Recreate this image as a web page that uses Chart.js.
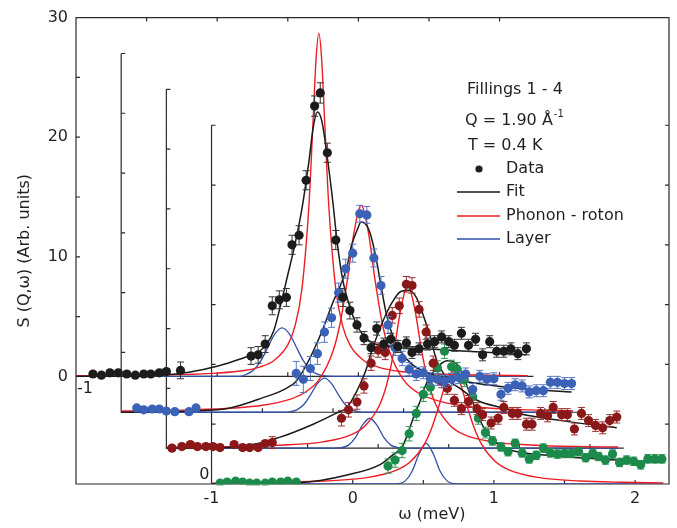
<!DOCTYPE html>
<html>
<head>
<meta charset="utf-8">
<script src="https://cdn.jsdelivr.net/npm/chart.js@4.4.1/dist/chart.umd.min.js"></script>
<style>
  html, body { margin: 0; background: #fff; }
</style>
</head>
<body>
<canvas id="chart" width="677" height="528"></canvas>
<script>
// Waterfall of S(Q,w) for fillings 1-4, each panel in its own (w, S) frame.
// Panel k is drawn shifted right by (3-k)*STEP_W and down by k*STEP_S.
const STEP_W = 0.32;
const STEP_S = 3;
const W_MIN = -1, W_MAX = 2.24, S_TOP = 30;

const X_TICKS = [-1, 0, 1, 2];
const Y_TICKS = [0, 10, 20, 30];

// ---- filling 1 (black) ----
const F1_W = [-0.88, -0.82, -0.76, -0.70, -0.64, -0.58, -0.52, -0.47, -0.41, -0.36, -0.26,
  0.24, 0.29, 0.34, 0.39, 0.44, 0.49, 0.53, 0.58, 0.63, 0.69, 0.73, 0.78, 0.84, 0.89, 0.94, 0.99,
  1.04, 1.09, 1.13, 1.18, 1.23, 1.28, 1.34, 1.38, 1.43, 1.49, 1.54, 1.59, 1.64, 1.68, 1.73, 1.78,
  1.83, 1.88, 1.93, 1.98, 2.03, 2.08, 2.13, 2.19];
const F1_S = [0.2, 0.1, 0.3, 0.3, 0.2, 0.1, 0.2, 0.2, 0.3, 0.4, 0.5,
  1.7, 1.8, 2.7, 5.9, 6.4, 6.6, 11.0, 11.8, 16.4, 22.6, 23.7, 18.7, 11.4, 6.6, 5.5, 4.3,
  3.2, 2.4, 4.0, 2.7, 3.1, 2.5, 2.8, 2.0, 2.3, 2.7, 2.9, 3.3, 2.9, 2.6, 3.6, 2.6,
  3.1, 1.8, 2.9, 2.1, 2.1, 2.3, 1.9, 2.3];
const F1_ERR = [0.2, 0.2, 0.2, 0.2, 0.2, 0.2, 0.2, 0.2, 0.2, 0.2, 0.7,
  0.7, 0.7, 0.7, 0.75, 0.75, 0.75, 0.8, 0.8, 0.8, 0.85, 0.85, 0.8, 0.8, 0.75, 0.7, 0.6,
  0.55, 0.5, 0.55, 0.5, 0.5, 0.5, 0.5, 0.5, 0.5, 0.5, 0.5, 0.5, 0.5, 0.5, 0.5, 0.5,
  0.5, 0.5, 0.5, 0.5, 0.5, 0.5, 0.5, 0.5];
const F1_FIT = [[-1, 0], [-0.6, 0.02], [-0.4, 0.1], [-0.2, 0.35], [0, 0.85], [0.1, 1.2], [0.2, 1.6],
  [0.3, 2.1], [0.35, 2.7], [0.4, 3.8], [0.45, 6.0], [0.5, 8.5], [0.55, 11.0], [0.6, 14.0], [0.65, 18.0],
  [0.68, 20.8], [0.71, 22.1], [0.74, 21.4], [0.78, 18.3], [0.82, 14.5], [0.85, 11.2], [0.89, 8.0],
  [0.94, 5.8], [0.98, 4.5], [1.03, 3.5], [1.1, 2.8], [1.2, 2.5], [1.4, 2.35], [1.7, 2.15], [2.0, 1.95],
  [2.19, 1.8]];
const F1_PR = [[-1, 0.05], [-0.5, 0.09], [-0.2, 0.17], [0, 0.27], [0.2, 0.51], [0.3, 0.78], [0.4, 1.31],
  [0.5, 2.64], [0.55, 4.16], [0.6, 7.3], [0.65, 14.35], [0.68, 21.6], [0.7, 26.5], [0.72, 28.7],
  [0.74, 26.5], [0.76, 21.6], [0.79, 14.35], [0.84, 7.3], [0.89, 4.16], [0.94, 2.64], [1.04, 1.31],
  [1.14, 0.78], [1.3, 0.41], [1.6, 0.18], [1.9, 0.1], [2.2, 0.065]];
const F1_LAYER = [[-1, 0], [0.16, 0], [0.21, 0.18], [0.26, 0.55], [0.31, 1.31], [0.36, 2.46], [0.41, 3.57],
  [0.46, 4.05], [0.51, 3.57], [0.56, 2.46], [0.61, 1.31], [0.66, 0.55], [0.71, 0.18], [0.76, 0.04],
  [0.86, 0], [2.2, 0]];

// ---- filling 2 (blue) ----
const F2_W = [-0.89, -0.84, -0.78, -0.73, -0.68, -0.62, -0.52, -0.47,
  0.24, 0.29, 0.34, 0.39, 0.44, 0.49, 0.54, 0.59, 0.64, 0.69, 0.74, 0.79, 0.84, 0.89, 0.94, 0.99,
  1.04, 1.09, 1.14, 1.19, 1.24, 1.29, 1.34, 1.39, 1.44, 1.49, 1.54, 1.59, 1.64, 1.69, 1.74, 1.79,
  1.84, 1.89, 1.94, 1.99, 2.04, 2.09, 2.14, 2.19];
const F2_S = [0.36, 0.2, 0.27, 0.27, 0.1, 0.05, 0.05, 0.36,
  3.25, 2.75, 3.66, 4.9, 6.7, 7.9, 10.0, 12.0, 13.3, 16.6, 16.5, 12.9, 10.6, 7.3, 5.4, 4.5,
  3.6, 3.2, 3.3, 2.8, 2.75, 2.6, 2.75, 2.9, 3.2, 1.9, 3.0, 2.75, 2.8, 1.5, 2.0, 2.3,
  2.2, 1.7, 1.8, 1.8, 2.5, 2.5, 2.4, 2.4];
const F2_ERR = [0.2, 0.2, 0.2, 0.2, 0.2, 0.2, 0.2, 0.2,
  1.0, 1.1, 1.0, 0.9, 0.85, 0.8, 0.8, 0.8, 0.75, 0.7, 0.7, 0.75, 0.75, 0.7, 0.65, 0.6,
  0.55, 0.55, 0.5, 0.5, 0.5, 0.5, 0.5, 0.5, 0.5, 0.5, 0.5, 0.5, 0.5, 0.5, 0.5, 0.5,
  0.5, 0.5, 0.5, 0.5, 0.5, 0.5, 0.5, 0.5];
const F2_FIT = [[-1, 0], [-0.5, 0.1], [-0.23, 0.35], [0, 1.2], [0.17, 2.0], [0.24, 2.6], [0.3, 3.7],
  [0.36, 5.1], [0.43, 7.0], [0.5, 9.2], [0.56, 10.8], [0.6, 12.2], [0.63, 13.9], [0.67, 15.2],
  [0.7, 15.9], [0.74, 15.6], [0.77, 14.7], [0.81, 12.6], [0.84, 10.6], [0.88, 8.1], [0.92, 6.5],
  [0.98, 5.1], [1.06, 4.0], [1.19, 3.2], [1.42, 2.6], [1.66, 2.2], [1.92, 1.9], [2.19, 1.7]];
const F2_PR = [[-1, 0.1], [-0.5, 0.2], [-0.2, 0.35], [0, 0.58], [0.2, 1.1], [0.3, 1.65], [0.4, 2.7],
  [0.5, 5.1], [0.55, 7.4], [0.6, 10.9], [0.65, 15.1], [0.7, 17.3], [0.75, 15.1], [0.8, 10.9],
  [0.85, 7.4], [0.9, 5.1], [1.0, 2.7], [1.1, 1.65], [1.3, 0.78], [1.6, 0.35], [1.9, 0.2], [2.2, 0.13]];
const F2_LAYER = [[-1, 0], [0.14, 0], [0.19, 0.04], [0.24, 0.18], [0.29, 0.6], [0.34, 1.43], [0.39, 2.4],
  [0.44, 2.85], [0.49, 2.4], [0.54, 1.43], [0.59, 0.6], [0.64, 0.18], [0.69, 0.04], [0.74, 0], [2.2, 0]];

// ---- filling 3 (dark red) ----
const F3_W = [-0.96, -0.89, -0.83, -0.78, -0.72, -0.67, -0.62, -0.52, -0.46, -0.41, -0.35, -0.30, -0.25,
  0.24, 0.29, 0.35, 0.40, 0.45, 0.50, 0.55, 0.60, 0.65, 0.70, 0.74, 0.79, 0.84, 0.89, 0.95, 0.99,
  1.04, 1.09, 1.14, 1.20, 1.24, 1.30, 1.35, 1.39, 1.45, 1.49, 1.55, 1.59, 1.65, 1.70, 1.74, 1.80,
  1.84, 1.89, 1.94, 1.99, 2.04, 2.09, 2.14, 2.19];
const F3_S = [0, 0.13, 0.3, 0.13, 0.13, 0.13, 0.05, 0.3, 0.05, 0.05, 0.05, 0.38, 0.46,
  2.5, 3.2, 3.85, 5.2, 7.1, 8.2, 8.0, 11.1, 11.9, 13.7, 13.6, 11.6, 9.7, 7.1, 5.6, 5.0,
  4.0, 3.3, 3.9, 3.3, 2.8, 2.1, 2.5, 3.4, 2.9, 2.9, 2.0, 2.0, 2.9, 2.7, 3.4, 2.8,
  2.8, 1.6, 2.9, 2.3, 1.9, 1.7, 2.3, 2.6];
const F3_ERR = [0.2, 0.2, 0.2, 0.2, 0.2, 0.2, 0.2, 0.2, 0.2, 0.2, 0.2, 0.2, 0.5,
  0.65, 0.6, 0.6, 0.6, 0.6, 0.6, 0.6, 0.65, 0.65, 0.65, 0.65, 0.65, 0.6, 0.6, 0.55, 0.5,
  0.5, 0.5, 0.5, 0.5, 0.5, 0.5, 0.5, 0.5, 0.5, 0.5, 0.5, 0.5, 0.5, 0.5, 0.5, 0.5,
  0.5, 0.5, 0.5, 0.5, 0.5, 0.5, 0.5, 0.5];
const F3_FIT = [[-1, 0], [-0.5, 0.1], [-0.2, 0.9], [0.04, 2.0], [0.2, 2.9], [0.28, 3.4], [0.35, 4.8],
  [0.41, 6.4], [0.46, 8.3], [0.53, 10.5], [0.6, 12.2], [0.66, 13.1], [0.72, 13.2], [0.77, 12.6],
  [0.82, 11.1], [0.87, 9.3], [0.91, 7.5], [0.99, 5.8], [1.08, 5.0], [1.2, 4.0], [1.4, 3.3], [1.5, 2.9],
  [1.8, 2.3], [2.19, 1.7]];
const F3_PR = [[-1, 0.07], [-0.5, 0.13], [-0.2, 0.24], [0.11, 0.52], [0.31, 1.12], [0.41, 1.9], [0.51, 3.6],
  [0.56, 5.3], [0.61, 8.0], [0.66, 11.6], [0.71, 13.6], [0.76, 11.6], [0.81, 8.0], [0.86, 5.3],
  [0.91, 3.6], [1.01, 1.9], [1.11, 1.12], [1.31, 0.52], [1.61, 0.24], [1.91, 0.13], [2.2, 0.09]];
const F3_LAYER = [[-1, 0], [0.19, 0], [0.24, 0.04], [0.29, 0.25], [0.34, 0.9], [0.39, 1.94], [0.44, 2.5],
  [0.49, 1.94], [0.54, 0.9], [0.59, 0.25], [0.64, 0.04], [0.69, 0], [2.2, 0]];

// ---- filling 4 (green) ----
const F4_W = [-0.94, -0.89, -0.83, -0.78, -0.73, -0.68, -0.62, -0.57, -0.51, -0.46, -0.40,
  0.25, 0.30, 0.35, 0.40, 0.45, 0.50, 0.55, 0.60, 0.65, 0.70, 0.74, 0.79, 0.85, 0.89, 0.94, 0.99,
  1.05, 1.10, 1.15, 1.20, 1.25, 1.30, 1.35, 1.40, 1.45, 1.50, 1.55, 1.60, 1.65, 1.70, 1.74, 1.79,
  1.84, 1.89, 1.94, 1.99, 2.04, 2.09, 2.14, 2.19];
const F4_S = [0.07, 0.16, 0.24, 0.16, 0.07, 0.07, 0.07, 0.16, 0.16, 0.24, 0.16,
  1.5, 2.0, 2.8, 4.2, 5.9, 7.5, 8.1, 9.7, 11.1, 9.8, 9.6, 8.7, 7.3, 5.5, 4.3, 3.6,
  3.1, 2.7, 3.4, 2.6, 2.1, 2.4, 3.0, 2.6, 2.5, 2.55, 2.55, 2.7, 2.2, 2.55, 2.3, 2.0,
  2.5, 1.8, 2.0, 1.9, 1.6, 2.1, 2.1, 2.1];
const F4_ERR = [0.15, 0.15, 0.15, 0.15, 0.15, 0.15, 0.15, 0.15, 0.15, 0.15, 0.15,
  0.6, 0.6, 0.6, 0.6, 0.6, 0.6, 0.6, 0.6, 0.6, 0.55, 0.55, 0.55, 0.5, 0.5, 0.45, 0.35,
  0.35, 0.35, 0.35, 0.35, 0.35, 0.35, 0.35, 0.35, 0.35, 0.35, 0.35, 0.35, 0.35, 0.35, 0.35, 0.35,
  0.35, 0.35, 0.35, 0.35, 0.35, 0.35, 0.35, 0.35];
const F4_FIT = [[-1, 0], [-0.4, 0.1], [-0.23, 0.3], [-0.04, 0.75], [0.19, 1.6], [0.28, 2.4], [0.35, 3.1],
  [0.39, 4.2], [0.44, 5.9], [0.48, 7.0], [0.5, 7.8], [0.56, 9.2], [0.62, 10.0], [0.67, 10.3],
  [0.74, 10.0], [0.79, 8.8], [0.84, 7.2], [0.88, 5.9], [0.95, 4.3], [1.02, 3.4], [1.13, 2.8],
  [1.38, 2.4], [1.73, 2.1], [2.19, 1.8]];
const F4_PR = [[-1, 0.07], [-0.5, 0.145], [-0.2, 0.25], [0.11, 0.55], [0.31, 1.16], [0.41, 1.88],
  [0.51, 3.38], [0.56, 4.7], [0.61, 6.5], [0.66, 8.46], [0.71, 9.4], [0.76, 8.46], [0.81, 6.5],
  [0.86, 4.7], [0.91, 3.38], [1.01, 1.88], [1.11, 1.16], [1.31, 0.55], [1.61, 0.25], [1.91, 0.145],
  [2.2, 0.095]];
const F4_LAYER = [[-1, 0], [0.27, 0], [0.32, 0.03], [0.37, 0.24], [0.42, 1.04], [0.47, 2.53], [0.52, 3.4],
  [0.57, 2.53], [0.62, 1.04], [0.67, 0.24], [0.72, 0.03], [0.77, 0], [2.2, 0]];

const FILLINGS = [
  { w: F1_W, s: F1_S, err: F1_ERR, fit: F1_FIT, pr: F1_PR, layer: F1_LAYER, color: '#1c1c1c', bar: '#333333' },
  { w: F2_W, s: F2_S, err: F2_ERR, fit: F2_FIT, pr: F2_PR, layer: F2_LAYER, color: '#3b62b6', bar: '#5577c4' },
  { w: F3_W, s: F3_S, err: F3_ERR, fit: F3_FIT, pr: F3_PR, layer: F3_LAYER, color: '#8a1818', bar: '#9a3030' },
  { w: F4_W, s: F4_S, err: F4_ERR, fit: F4_FIT, pr: F4_PR, layer: F4_LAYER, color: '#1c8a4a', bar: '#2e9a5a' }
];

const FIT_COLOR = '#1a1a1a';
const PR_COLOR = '#ee1c25';
const LAYER_COLOR = '#2f4fa6';
const TEXT_COLOR = '#231f20';
const FONT = '"DejaVu Sans", "Liberation Sans", Arial, sans-serif';

// move a point of panel k into the shared plot frame
function shift(k, w, s) {
  return { x: w - (3 - k) * STEP_W, y: s - k * STEP_S };
}

function curveSet(k, pts, color, width, order) {
  return {
    data: pts.map(p => shift(k, p[0], p[1])),
    showLine: true,
    borderColor: color,
    borderWidth: width,
    pointRadius: 0,
    cubicInterpolationMode: 'monotone',
    order: order
  };
}

const datasets = [];
FILLINGS.forEach((f, k) => {
  datasets.push({
    data: f.w.map((w, i) => shift(k, w, f.s[i])),
    errors: f.err,
    barColor: f.bar,
    pointRadius: 4.6,
    pointBackgroundColor: f.color,
    pointBorderWidth: 0,
    showLine: false,
    order: 0
  });
  datasets.push(curveSet(k, f.fit, FIT_COLOR, 1.5, 1));
  datasets.push(curveSet(k, f.pr, PR_COLOR, 1.4, 2));
  datasets.push(curveSet(k, f.layer, LAYER_COLOR, 1.3, 3));
});

// axes of the four panels: vertical axis, baseline and their tick marks
const framePlugin = {
  id: 'waterfallFrame',
  beforeDatasetsDraw(chart) {
    const { ctx, chartArea: a, scales: { x, y } } = chart;
    const px = v => x.getPixelForValue(v);
    const py = v => y.getPixelForValue(v);
    ctx.save();
    ctx.strokeStyle = '#2a2a2a';
    ctx.lineWidth = 1.2;
    ctx.beginPath();
    ctx.rect(a.left, a.top, a.right - a.left, a.bottom - a.top);
    for (let k = 0; k < 4; k++) {
      const dx = -(3 - k) * STEP_W, dy = -k * STEP_S;
      const x0 = px(W_MIN + dx), y0 = py(dy), yTop = py(S_TOP + dy);
      ctx.moveTo(x0, yTop);
      ctx.lineTo(x0, y0);
      ctx.lineTo(px(W_MAX + dx), y0);
      if (k > 0) {
        ctx.moveTo(x0, yTop);
        ctx.lineTo(x0 + 4, yTop);
      }
      for (let s = 5; s < S_TOP; s += 5) {
        ctx.moveTo(x0, py(s + dy));
        ctx.lineTo(x0 + 4, py(s + dy));
      }
      for (let w = 0; w <= 2; w += 0.5) {
        ctx.moveTo(px(w + dx), y0);
        ctx.lineTo(px(w + dx), y0 - 4);
      }
    }
    // top edge carries the w ticks of filling 1, right edge the S ticks of filling 4
    for (let w = -0.5; w <= 2; w += 0.5) {
      const xx = px(w - 3 * STEP_W);
      ctx.moveTo(xx, a.top);
      ctx.lineTo(xx, a.top + 4);
    }
    for (let s = 5; s <= S_TOP; s += 5) {
      const yy = py(s - 3 * STEP_S);
      ctx.moveTo(a.right, yy);
      ctx.lineTo(a.right - 4, yy);
    }
    ctx.stroke();
    ctx.restore();
  }
};

// vertical error bars with caps, drawn just under each data set
const errorBarPlugin = {
  id: 'errorBars',
  beforeDatasetDraw(chart, args) {
    const ds = chart.data.datasets[args.index];
    if (!ds.errors) return;
    const { ctx, scales: { y } } = chart;
    const meta = args.meta;
    ctx.save();
    ctx.strokeStyle = ds.barColor;
    ctx.lineWidth = 1;
    ctx.beginPath();
    meta.data.forEach((pt, i) => {
      const v = ds.data[i].y, e = ds.errors[i];
      const yTop = y.getPixelForValue(v + e), yBot = y.getPixelForValue(v - e);
      ctx.moveTo(pt.x, yTop); ctx.lineTo(pt.x, yBot);
      ctx.moveTo(pt.x - 3.5, yTop); ctx.lineTo(pt.x + 3.5, yTop);
      ctx.moveTo(pt.x - 3.5, yBot); ctx.lineTo(pt.x + 3.5, yBot);
    });
    ctx.stroke();
    ctx.restore();
  }
};

// legend block, panel labels and the w axis title
const textPlugin = {
  id: 'labels',
  afterDraw(chart) {
    const { ctx, scales: { x, y } } = chart;
    ctx.save();
    ctx.fillStyle = TEXT_COLOR;
    ctx.textBaseline = 'middle';
    ctx.font = '16px ' + FONT;
    ctx.fillText('Fillings 1 - 4', 467, 90);
    const q = 'Q = 1.90 Å';
    ctx.fillText(q, 465, 121);
    const qw = ctx.measureText(q).width;
    ctx.font = '10px ' + FONT;
    ctx.fillText('-1', 465 + qw + 1, 114);
    ctx.font = '16px ' + FONT;
    ctx.fillText('T = 0.4 K', 468, 146);

    ctx.beginPath();
    ctx.arc(479, 169, 3.6, 0, Math.PI * 2);
    ctx.fill();
    ctx.fillText('Data', 506, 169);
    const rows = [['Fit', FIT_COLOR, 192], ['Phonon - roton', PR_COLOR, 216], ['Layer', LAYER_COLOR, 239]];
    rows.forEach(([label, color, yy]) => {
      ctx.strokeStyle = color;
      ctx.lineWidth = 1.4;
      ctx.beginPath();
      ctx.moveTo(457, yy);
      ctx.lineTo(500, yy);
      ctx.stroke();
      ctx.fillText(label, 506, yy);
    });

    // own-frame labels of the first and last panel
    ctx.textAlign = 'center';
    ctx.fillText('-1', x.getPixelForValue(W_MIN - 3 * STEP_W) + 9, y.getPixelForValue(0) + 12);
    ctx.textAlign = 'right';
    ctx.fillText('0', x.getPixelForValue(W_MIN) - 2, y.getPixelForValue(-3 * STEP_S) - 9);

    ctx.textAlign = 'center';
    ctx.fillText('ω (meV)', x.getPixelForValue(0.56), 515);
    ctx.restore();
  }
};

Chart.defaults.font.family = FONT;
Chart.defaults.font.size = 16;
Chart.defaults.color = TEXT_COLOR;

new Chart(document.getElementById('chart'), {
  type: 'scatter',
  data: { datasets },
  options: {
    responsive: false,
    animation: false,
    devicePixelRatio: 1,
    layout: { padding: { top: 13, right: 8, left: 0, bottom: 0 } },
    plugins: { legend: { display: false }, tooltip: { enabled: false } },
    scales: {
      x: {
        type: 'linear',
        min: W_MIN - 3 * STEP_W,
        max: W_MAX,
        grid: { display: false, drawTicks: false },
        border: { display: false },
        afterBuildTicks: s => { s.ticks = X_TICKS.map(v => ({ value: v })); },
        afterFit: s => { s.height = 44; },
        ticks: { padding: 5 }
      },
      y: {
        type: 'linear',
        min: -3 * STEP_S,
        max: S_TOP,
        grid: { display: false, drawTicks: false },
        border: { display: false },
        afterBuildTicks: s => { s.ticks = Y_TICKS.map(v => ({ value: v })); },
        afterFit: s => { s.width = 76; },
        ticks: { padding: 8 },
        title: {
          display: true,
          text: 'S (Q,ω) (Arb. units)',
          padding: { top: 15, bottom: 0 }
        }
      }
    }
  },
  plugins: [framePlugin, errorBarPlugin, textPlugin]
});
</script>
</body>
</html>
